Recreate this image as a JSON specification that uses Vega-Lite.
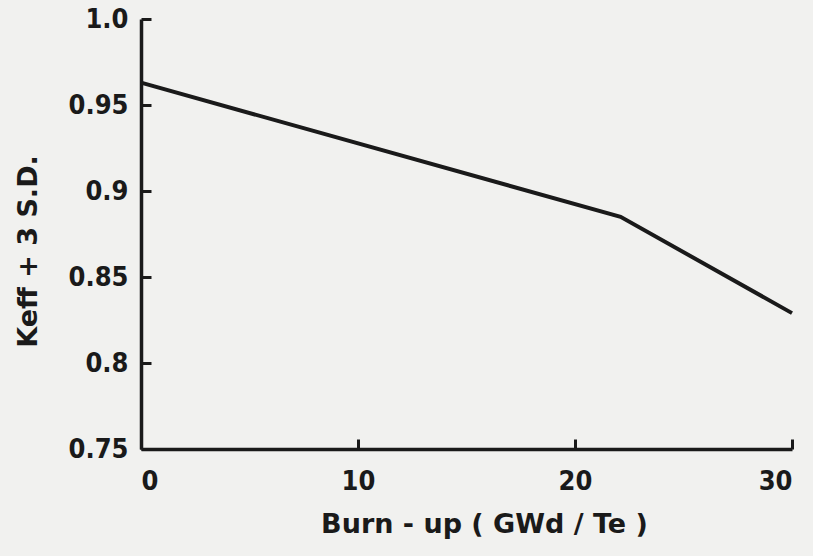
{
  "$schema": "https://vega.github.io/schema/vega-lite/v6.json",
  "width": 651,
  "height": 430,
  "autosize": "none",
  "padding": {"left": 141, "top": 19, "right": 21, "bottom": 107},
  "background": "#f1f1ef",
  "config": {
    "view": {"stroke": null},
    "axis": {
      "grid": false,
      "domainColor": "#1a1a1a",
      "domainWidth": 3.5,
      "tickColor": "#1a1a1a",
      "tickWidth": 3,
      "tickSize": -10,
      "labelFont": "DejaVu Sans Condensed, DejaVu Sans",
      "labelFontWeight": "bold",
      "labelFontSize": 27,
      "labelColor": "#1a1a1a",
      "titleFont": "DejaVu Sans",
      "titleFontWeight": "bold",
      "titleFontSize": 27,
      "titleColor": "#1a1a1a"
    }
  },
  "data": {
    "values": [
      {"burnup": 0, "keff": 0.963},
      {"burnup": 22.1, "keff": 0.885},
      {"burnup": 30, "keff": 0.829}
    ]
  },
  "mark": {"type": "line", "color": "#1a1a1a", "strokeWidth": 4},
  "encoding": {
    "x": {
      "field": "burnup",
      "type": "quantitative",
      "scale": {"domain": [0, 30], "nice": false, "zero": false},
      "axis": {
        "values": [0, 10, 20, 30],
        "labelPadding": 29,
        "title": "Burn - up ( GWd / Te )",
        "titleX": 343,
        "titleY": 75,
        "titleBaseline": "middle",
        "titleAlign": "center"
      }
    },
    "y": {
      "field": "keff",
      "type": "quantitative",
      "scale": {"domain": [0.75, 1.0], "nice": false, "zero": false},
      "axis": {
        "values": [0.75, 0.8, 0.85, 0.9, 0.95, 1.0],
        "labelExpr": "datum.value == 1 ? '1.0' : '' + datum.value",
        "labelPadding": 23,
        "title": "Keff + 3 S.D.",
        "titleAngle": -90,
        "titleX": -113,
        "titleY": 232,
        "titleBaseline": "middle",
        "titleAlign": "center"
      }
    }
  }
}
